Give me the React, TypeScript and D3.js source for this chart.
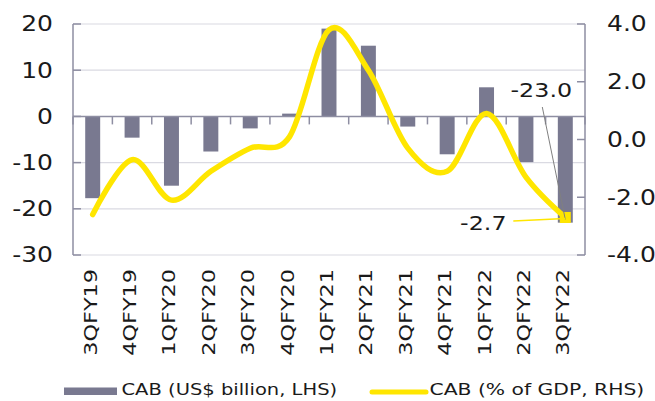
import * as d3 from "d3"

const categories = [
  "3QFY19", "4QFY19", "1QFY20", "2QFY20", "3QFY20", "4QFY20", "1QFY21",
  "2QFY21", "3QFY21", "4QFY21", "1QFY22", "2QFY22", "3QFY22",
]
const cabBillion = [-17.7, -4.6, -15.0, -7.6, -2.6, 0.6, 19.0, 15.3, -2.2, -8.2, 6.3, -9.9, -23.0]
const cabGdp = [-2.6, -0.7, -2.1, -1.1, -0.3, 0.1, 3.8, 2.4, -0.3, -1.1, 0.9, -1.3, -2.7]
const leftTicks = [20, 10, 0, -10, -20, -30]
const rightTicks = [4, 2, 0, -2, -4]
const legendLabels = ["CAB (US$ billion, LHS)", "CAB (% of GDP, RHS)"]

const W = 655
const H = 401
const FONT = "DejaVu Sans"
const SX = 1.22 // the source font runs wider than DejaVu
const BAR = "#797990"
const YELLOW = "#FFE600"
const AXIS = "#8e8ea2"
const GRID = "#dadae2"
const INK = "#1a1a1a"

export default function App() {
  const left = 73
  const right = 585
  const top = 24
  const bottom = 255

  const x = d3.scaleBand<string>().domain(categories).range([left, right]).paddingInner(0.62).paddingOuter(0.31)
  const step = x.step()
  const cx = (c: string) => (x(c) ?? 0) + x.bandwidth() / 2
  const yL = d3.scaleLinear().domain([-30, 20]).range([bottom, top])
  const yR = d3.scaleLinear().domain([-4, 4]).range([bottom, top])

  const line = d3
    .line<number>()
    .x((_, i) => cx(categories[i]))
    .y((d) => yR(d))
    .curve(d3.curveCardinal.tension(0))

  const last = categories.length - 1
  const lx = cx(categories[last])
  const ly = yR(cabGdp[last])

  return (
    <svg width={W} height={H} style={{ position: "absolute", left: 0, top: 0, background: "#fff" }}>
      {/* gridlines */}
      {leftTicks.filter((t) => t !== 0).map((t) => (
        <line key={"g" + t} x1={left} x2={right} y1={yL(t)} y2={yL(t)} stroke={GRID} strokeWidth={1.2} />
      ))}

      {/* bars */}
      {cabBillion.map((v, i) => (
        <rect
          key={categories[i]}
          x={x(categories[i])}
          width={x.bandwidth()}
          y={Math.min(yL(v), yL(0))}
          height={Math.abs(yL(v) - yL(0))}
          fill={BAR}
        />
      ))}

      {/* axes */}
      <line x1={left} x2={left} y1={top} y2={bottom} stroke={AXIS} strokeWidth={1.5} />
      <line x1={right} x2={right} y1={top} y2={bottom} stroke={AXIS} strokeWidth={1.5} />
      <line x1={left} x2={right} y1={yL(0)} y2={yL(0)} stroke={AXIS} strokeWidth={1.5} />
      {d3.range(categories.length + 1).map((i) => (
        <line key={"ct" + i} x1={left + i * step} x2={left + i * step} y1={yL(0)} y2={yL(0) + 8} stroke={AXIS} strokeWidth={1.5} />
      ))}
      {leftTicks.map((t) => (
        <g key={"lt" + t}>
          <line x1={left} x2={left + 8} y1={yL(t)} y2={yL(t)} stroke={AXIS} strokeWidth={1.5} />
          <text
            transform={`translate(53,${yL(t)}) scale(${SX},1)`}
            dy="0.36em"
            textAnchor="end"
            fontFamily={FONT}
            fontSize={20.5}
            fill={INK}
          >
            {t}
          </text>
        </g>
      ))}
      {rightTicks.map((t) => (
        <g key={"rt" + t}>
          <line x1={right - 8} x2={right} y1={yR(t)} y2={yR(t)} stroke={AXIS} strokeWidth={1.5} />
          <text
            transform={`translate(607,${yR(t)}) scale(${SX},1)`}
            dy="0.36em"
            textAnchor="start"
            fontFamily={FONT}
            fontSize={20.5}
            fill={INK}
          >
            {t.toFixed(1)}
          </text>
        </g>
      ))}

      {/* category labels */}
      {categories.map((c) => (
        <text
          key={"cl" + c}
          transform={`translate(${cx(c) + 4},269) rotate(-90) scale(${SX},1)`}
          textAnchor="end"
          fontFamily={FONT}
          fontSize={18.3}
          fill={INK}
        >
          {c}
        </text>
      ))}

      {/* % of GDP line */}
      <path d={line(cabGdp) ?? ""} fill="none" stroke={YELLOW} strokeWidth={5.5} strokeLinecap="round" />
      <rect x={lx - 5.5} y={ly - 5.5} width={11} height={11} fill={YELLOW} />

      {/* annotations */}
      <line x1={lx - 23} y1={107} x2={lx} y2={ly + 2} stroke="#808080" strokeWidth={1} />
      <text
        transform={`translate(${lx - 24},97) scale(${SX},1)`}
        textAnchor="middle"
        fontFamily={FONT}
        fontSize={19.5}
        fill={INK}
      >
        {cabBillion[last].toFixed(1)}
      </text>
      <line x1={lx - 52} y1={ly + 3.5} x2={lx} y2={ly + 1} stroke={YELLOW} strokeWidth={1.5} />
      <text
        transform={`translate(${lx - 82},230) scale(${SX},1)`}
        textAnchor="middle"
        fontFamily={FONT}
        fontSize={19.5}
        fill={INK}
      >
        {cabGdp[last].toFixed(1)}
      </text>

      {/* legend */}
      <rect x={64} y={387.5} width={53} height={7.5} fill={BAR} />
      <text transform={`translate(121.5,395) scale(${SX},1)`} fontFamily={FONT} fontSize={16} fill={INK}>
        {legendLabels[0]}
      </text>
      <line x1={372} x2={426} y1={392} y2={392} stroke={YELLOW} strokeWidth={5} strokeLinecap="round" />
      <text transform={`translate(429.5,395) scale(1.27,1)`} fontFamily={FONT} fontSize={16} fill={INK}>
        {legendLabels[1]}
      </text>
    </svg>
  )
}
